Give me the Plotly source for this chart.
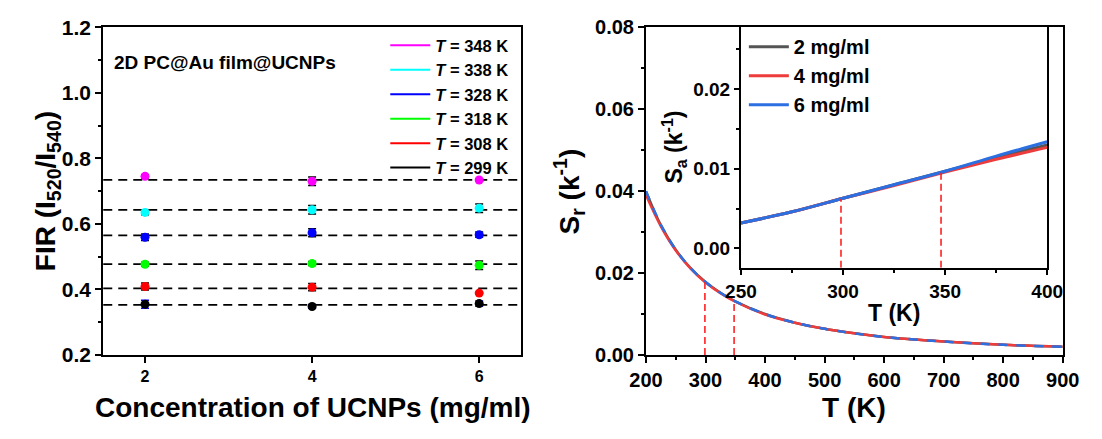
import plotly.graph_objects as go

W, H = 1102, 439

# ---------------- Left panel data ----------------
conc = [2, 4, 6]
fir_348 = [0.745, 0.730, 0.734]
err_348 = [0.005, 0.013, 0.004]
fir_338 = [0.635, 0.643, 0.648]
err_338 = [0.007, 0.013, 0.013]
fir_328 = [0.559, 0.573, 0.567]
err_328 = [0.010, 0.012, 0.008]
fir_318 = [0.477, 0.479, 0.474]
err_318 = [0.006, 0.006, 0.013]
fir_308 = [0.409, 0.407, 0.389]
err_308 = [0.011, 0.011, 0.0]
fir_299 = [0.355, 0.348, 0.357]
err_299 = [0.012, 0.005, 0.008]
ref_levels = [0.734, 0.643, 0.565, 0.477, 0.403, 0.353]
left_labels = ["348", "338", "328", "318", "308", "299"]
left_colors = ["#FF00FF", "#00FFFF", "#0000FF", "#00FF00", "#FF0000", "#000000"]

# ---------------- Right panel data ----------------
T_main = [200, 225, 250, 275, 300, 325, 350, 400, 450, 500, 550, 600, 700, 800, 900]
Sr_2 = [0.0400, 0.0317, 0.0257, 0.0212, 0.0178, 0.0152, 0.0131, 0.0100, 0.0079, 0.0064, 0.0053, 0.0044, 0.0033, 0.0025, 0.0020]
Sr_4 = [0.0390, 0.0314, 0.0255, 0.0211, 0.0177, 0.0151, 0.0130, 0.0099, 0.0079, 0.0064, 0.0053, 0.0044, 0.0033, 0.0025, 0.0020]
Sr_6 = [0.0400, 0.0318, 0.0257, 0.0212, 0.0178, 0.0152, 0.0131, 0.0100, 0.0079, 0.0064, 0.0053, 0.0044, 0.0033, 0.0025, 0.0020]

T_inset = [250, 275, 300, 325, 350, 375, 400]
Sa_2 = [0.0032, 0.0046, 0.0063, 0.0080, 0.0097, 0.0114, 0.0130]
Sa_4 = [0.0032, 0.0046, 0.0063, 0.0079, 0.0096, 0.0112, 0.0127]
Sa_6 = [0.0032, 0.0046, 0.0063, 0.0080, 0.0097, 0.0116, 0.0134]

T_marks = [299, 348]
Sr_marks = [0.0178, 0.0132]
Sa_marks = [0.0062, 0.0096]

conc_names = ["2 mg/ml", "4 mg/ml", "6 mg/ml"]
conc_colors = ["#555555", "#EE3B3B", "#2B6FE0"]

FONT = "Liberation Sans, Arial, sans-serif"


def px(x):
    return x / W


def py(y):
    return 1 - y / H


fig = go.Figure()

# left panel points
fir_all = [fir_348, fir_338, fir_328, fir_318, fir_308, fir_299]
err_all = [err_348, err_338, err_328, err_318, err_308, err_299]
err_colors = ["black", "black", "black", "black", "black", "#0000FF"]
for lab, col, vals, errs, ec in zip(left_labels, left_colors, fir_all, err_all, err_colors):
    fig.add_trace(go.Scatter(
        x=conc, y=vals, mode="markers", showlegend=False,
        marker=dict(color=col, size=9, line=dict(width=0)),
        error_y=dict(type="data", array=errs, color=ec, thickness=1.5, width=4),
        xaxis="x", yaxis="y"))
# left legend entries (lines)
for lab, col in zip(left_labels, left_colors):
    fig.add_trace(go.Scatter(
        x=[None], y=[None], mode="lines", name=f"<i>T</i> = {lab} K",
        line=dict(color=col, width=2), legend="legend", xaxis="x", yaxis="y"))

# main Sr curves
for name, col, vals, dash in zip(conc_names, conc_colors, [Sr_2, Sr_4, Sr_6], ["solid", "solid", "dash"]):
    fig.add_trace(go.Scatter(
        x=T_main, y=vals, mode="lines", line=dict(color=col, width=2.5, dash=dash, shape="spline"),
        showlegend=False, xaxis="x2", yaxis="y2"))

# inset Sa curves
for name, col, vals in zip(conc_names, conc_colors, [Sa_2, Sa_4, Sa_6]):
    fig.add_trace(go.Scatter(
        x=T_inset, y=vals, mode="lines", name=name, line=dict(color=col, width=3, shape="spline"),
        legend="legend2", xaxis="x3", yaxis="y3"))

shapes = []
for lv in ref_levels:
    shapes.append(dict(type="line", xref="x domain", yref="y", x0=0, x1=1, y0=lv, y1=lv,
                       line=dict(color="black", width=1.8, dash="9px,6px"), layer="below"))
inset_ymin = -0.00244
for t, s in zip(T_marks, Sr_marks):
    shapes.append(dict(type="line", xref="x2", yref="y2", x0=t, x1=t, y0=0, y1=s,
                       line=dict(color="#FF2020", width=1.6, dash="7px,4px")))
for t, s in zip(T_marks, Sa_marks):
    shapes.append(dict(type="line", xref="x3", yref="y3", x0=t, x1=t, y0=inset_ymin, y1=s,
                       line=dict(color="#FF2020", width=1.6, dash="7px,4px")))

axis_common = dict(showline=True, linecolor="black", linewidth=2, mirror=True, ticks="outside",
                   tickcolor="black", tickwidth=2, showgrid=False, zeroline=False,
                   tickfont=dict(family=FONT, size=20, color="black", weight="bold"))

annotations = [
    dict(text="2D PC@Au film@UCNPs", x=px(98), y=py(53), xref="paper", yref="paper",
         xanchor="left", yanchor="middle", showarrow=False,
         font=dict(family=FONT, size=19, color="black", weight="bold")),
    dict(text="Concentration of UCNPs (mg/ml)", x=px(305), y=py(417), xref="paper", yref="paper",
         xanchor="center", yanchor="middle", showarrow=False,
         font=dict(family=FONT, size=28, color="black", weight="bold")),
    dict(text="FIR (I<sub>520</sub>/I<sub>540</sub>)", x=px(31), y=py(189), xref="paper", yref="paper",
         xanchor="center", yanchor="middle", showarrow=False, textangle=-90,
         font=dict(family=FONT, size=28, color="black", weight="bold")),
    dict(text="S<sub>r</sub> (k<sup>-1</sup>)", x=px(570), y=py(189), xref="paper", yref="paper",
         xanchor="center", yanchor="middle", showarrow=False, textangle=-90,
         font=dict(family=FONT, size=28, color="black", weight="bold")),
    dict(text="T (K)", x=px(864), y=py(417), xref="paper", yref="paper",
         xanchor="center", yanchor="middle", showarrow=False,
         font=dict(family=FONT, size=28, color="black", weight="bold")),
    dict(text="T (K)", x=px(905), y=py(318), xref="paper", yref="paper",
         xanchor="center", yanchor="middle", showarrow=False,
         font=dict(family=FONT, size=23, color="black", weight="bold")),
    dict(text="S<sub>a</sub> (k<sup>-1</sup>)", x=px(677), y=py(143), xref="paper", yref="paper",
         xanchor="center", yanchor="middle", showarrow=False, textangle=-90,
         font=dict(family=FONT, size=23, color="black", weight="bold")),
]

fig.update_layout(
    width=W, height=H, margin=dict(l=0, r=0, t=0, b=0),
    paper_bgcolor="white", plot_bgcolor="rgba(0,0,0,0)",
    font=dict(family=FONT, color="black"),
    xaxis=dict(axis_common, domain=[px(89), px(520)], range=[1.5, 6.5], tickvals=conc,
               ticklen=6, tickfont=dict(family=FONT, size=16, color="black", weight="bold"), anchor="y"),
    yaxis=dict(axis_common, domain=[py(362), py(16)], range=[0.2, 1.2], dtick=0.2, tick0=0.2,
               tickformat=".1f", ticklen=6, minor=dict(dtick=0.1, ticklen=3, tickcolor="black", tickwidth=2),
               tickfont=dict(family=FONT, size=21, color="black", weight="bold"), anchor="x"),
    xaxis2=dict(axis_common, domain=[px(649), px(1079)], range=[200, 900], dtick=100, tick0=200,
                ticklen=6, minor=dict(dtick=50, ticklen=3, tickcolor="black", tickwidth=2), anchor="y2"),
    yaxis2=dict(axis_common, domain=[py(362), py(16)], range=[0, 0.08], dtick=0.02, tick0=0,
                tickformat=".2f", ticklen=6, minor=dict(dtick=0.01, ticklen=3, tickcolor="black", tickwidth=2),
                anchor="x2"),
    xaxis3=dict(axis_common, domain=[px(747), px(1063)], range=[250, 400], dtick=50, tick0=250,
                ticklen=5, minor=dict(dtick=25, ticklen=3, tickcolor="black", tickwidth=2),
                tickfont=dict(family=FONT, size=19, color="black", weight="bold"), anchor="y3"),
    yaxis3=dict(axis_common, domain=[py(270), py(16)], range=[inset_ymin, 0.0278],
                tickvals=[0, 0.01, 0.02], tickformat=".2f", ticklen=5,
                minor=dict(dtick=0.005, tick0=0, ticklen=3, tickcolor="black", tickwidth=2),
                tickfont=dict(family=FONT, size=19, color="black", weight="bold"), anchor="x3"),
    legend=dict(x=px(380), y=py(17), xanchor="left", yanchor="top", bgcolor="rgba(0,0,0,0)",
                font=dict(family=FONT, size=16.5, color="black", weight="bold"), itemwidth=40),
    legend2=dict(x=px(750), y=py(16), xanchor="left", yanchor="top", bgcolor="rgba(0,0,0,0)",
                 font=dict(family=FONT, size=20, color="black", weight="bold"), itemwidth=40),
    shapes=shapes,
    annotations=annotations,
)

fig.write_html("out.html")
